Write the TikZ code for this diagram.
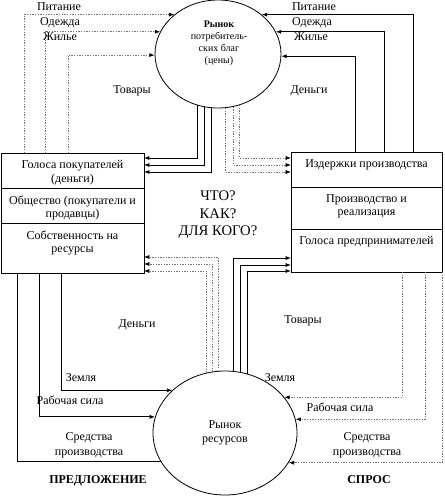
\documentclass[tikz,border=0pt]{standalone}
\usepackage{fontspec}
\setmainfont{Liberation Serif}
\usepackage{tikz}
\usetikzlibrary{shapes}
\usetikzlibrary{arrows.meta}
\usetikzlibrary{positioning}

\begin{document}
\begin{tikzpicture}[x=0.75pt,y=-0.75pt,
    cell/.style={draw,line width=0.6pt,rectangle,inner sep=0pt,outer sep=0pt},
    celltext/.style={align=center,inner sep=0pt,font=\fontsize{9}{10}\selectfont},
    lbl/.style={anchor=base,inner sep=0pt,font=\fontsize{9}{10}\selectfont},
    market/.style={draw,line width=0.6pt,ellipse,inner sep=0pt},
    solidflow/.style={line width=0.6pt,black},
    dotflow/.style={line width=0.5pt,black!55,dash pattern=on 1pt off 1pt},
    >={Latex[length=4pt,width=3pt,black]}]
    \useasboundingbox (0,0) rectangle (444,496);

    % markets
    \node[market,minimum width=94.5pt,minimum height=81pt] (cmkt) at (218,54) {};
    \node[align=center,inner sep=0pt,font=\fontsize{7.5}{9}\selectfont] (cmkttxt) at (219,43)
        {\textbf{Рынок}\\потребитель-\\ских благ\\(цены)};
    \node[market,minimum width=108pt,minimum height=93pt,align=center,
        font=\fontsize{9}{10.5}\selectfont] (rmkt) at (225,433) {Рынок\\ресурсов};

    % left box
    \node[cell,minimum width=107.25pt,minimum height=26.25pt] (lvote) at (72.5,170.5) {};
    \node[cell,minimum width=107.25pt,minimum height=26.25pt,below=0pt of lvote] (lsoc) {};
    \node[cell,minimum width=107.25pt,minimum height=37.5pt,below=0pt of lsoc] (lprop) {};
    \node[celltext,below=5.5pt of lvote.north] (lvotetxt) {Голоса покупателей\\(деньги)};
    \node[celltext,below=5.5pt of lsoc.north] (lsoctxt) {Общество (покупатели и\\продавцы)};
    \node[celltext,below=5.5pt of lprop.north] (lproptxt) {Собственность на\\ресурсы};

    % right box
    \node[cell,minimum width=113.25pt,minimum height=26.25pt] (rcost) at (366.5,169.5) {};
    \node[cell,minimum width=113.25pt,minimum height=31.5pt,below=0pt of rcost] (rprod) {};
    \node[cell,minimum width=113.25pt,minimum height=32.25pt,below=0pt of rprod] (rvote) {};
    \node[celltext,below=5.5pt of rcost.north] (rcosttxt) {Издержки производства};
    \node[celltext,below=5.5pt of rprod.north] (rprodtxt) {Производство и\\реализация};
    \node[celltext,below=5.5pt of rvote.north] (rvotetxt) {Голоса предпринимателей};

    \node[align=center,inner sep=0pt,font=\fontsize{11}{13}\selectfont] (quest) at (218,215)
        {ЧТО?\\КАК?\\ДЛЯ КОГО?};

    % goods to the consumer market
    \draw[dotflow,->] (lvote.north -| 24,0) |- (cmkt.138);
    \draw[dotflow,->] (lvote.north -| 45,0) |- (cmkt.159);
    \draw[dotflow,->] (lvote.north -| 68,0) |- (cmkt.181);
    \draw[solidflow,->] (rcost.north -| 413,0) |- (cmkt.42);
    \draw[solidflow,->] (rcost.north -| 384,0) |- (cmkt.21);
    \draw[solidflow,->] (rcost.north -| 355,0) |- (cmkt.358);

    \draw[solidflow,->] (cmkt.248.7) |- (lvote.east |- 0,158);
    \draw[solidflow,->] (cmkt.256.2) |- (lvote.east |- 0,165);
    \draw[solidflow,->] (cmkt.263.6) |- (lvote.east |- 0,172);
    \draw[dotflow,->] (cmkt.293.5) |- (rcost.west |- 0,158);
    \draw[dotflow,->] (cmkt.286) |- (rcost.west |- 0,165);
    \draw[dotflow,->] (cmkt.278.5) |- (rcost.west |- 0,172);

    % resource market
    \draw[dotflow,->] (rmkt.96.5) |- (lprop.east |- 0,257);
    \draw[dotflow,->] (rmkt.102) |- (lprop.east |- 0,264);
    \draw[dotflow,->] (rmkt.107.6) |- (lprop.east |- 0,271);
    \draw[solidflow,->] (rmkt.82.6) |- (rvote.west |- 0,258);
    \draw[solidflow,->] (rmkt.76.1) |- (rvote.west |- 0,265);
    \draw[solidflow,->] (rmkt.69.6) |- (rvote.west |- 0,271);

    \draw[solidflow,->] (lprop.south -| 61,0) |- (rmkt.141.6);
    \draw[solidflow,->] (lprop.south -| 39,0) |- (rmkt.167.9);
    \draw[solidflow] (lprop.south -| 17,0) |- (rmkt.204.5);
    \draw[dotflow,->] (rvote.south -| 402,0) |- (rmkt.31.6);
    \draw[dotflow,->] (rvote.south -| 425,0) |- (rmkt.11.3);
    \draw[dotflow,->] (rvote.south -| 442,0) |- (rmkt.335.5);

    % labels
    \node[lbl] (lpit) at (59,10.5) {Питание};
    \node[lbl] (lode) at (60,25.5) {Одежда};
    \node[lbl] (lzhi) at (60,40) {Жилье};
    \node[lbl] (rpit) at (314,10.5) {Питание};
    \node[lbl] (rode) at (312,25.5) {Одежда};
    \node[lbl] (rzhi) at (311,40) {Жилье};
    \node[lbl] (ltov) at (132,93) {Товары};
    \node[lbl] (rden) at (309,93) {Деньги};
    \node[lbl] (lden) at (137,327) {Деньги};
    \node[lbl] (rtov) at (303,323) {Товары};
    \node[lbl] (lzem) at (81,381) {Земля};
    \node[lbl] (lrab) at (70,404) {Рабочая сила};
    \node[lbl,anchor=center,align=center] (lsred) at (89,445) {Средства\\[1pt]производства};
    \node[lbl] (rzem) at (280,381) {Земля};
    \node[lbl] (rrab) at (340,411) {Рабочая сила};
    \node[lbl,anchor=center,align=center] (rsred) at (367,445) {Средства\\[1pt]производства};
    \node[lbl,font=\fontsize{9}{10}\selectfont\bfseries] (supply) at (98,483) {ПРЕДЛОЖЕНИЕ};
    \node[lbl,font=\fontsize{9}{10}\selectfont\bfseries] (demand) at (369,483) {СПРОС};
\end{tikzpicture}
\end{document}
